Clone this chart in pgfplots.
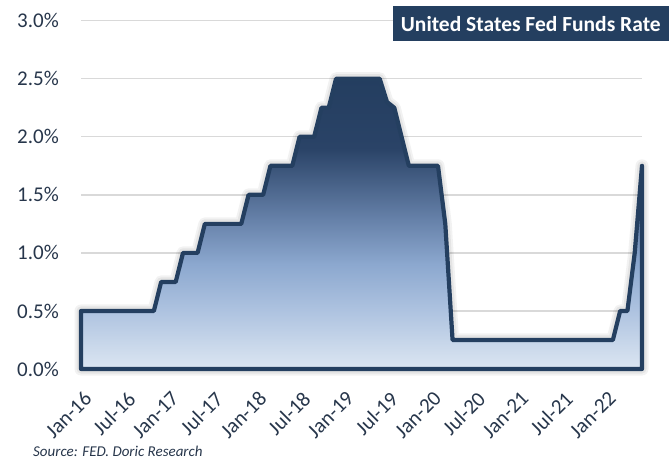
\documentclass[border=0pt]{standalone}
\usepackage{pgfplots}
\pgfplotsset{compat=1.18}
\usepackage{pgfplotstable}
\usepackage{fontspec}
\setmainfont{Carlito}
\definecolor{navy}{HTML}{243F60}
\definecolor{titlebg}{HTML}{243F60}
\definecolor{labelc}{HTML}{27364B}
\definecolor{gridc}{HTML}{D9D9D9}
\definecolor{g0}{HTML}{DCE6F2}
\definecolor{g1}{HTML}{AEC3E0}
\definecolor{g2}{HTML}{8CA8CF}
\definecolor{g3}{HTML}{6580A8}
\definecolor{g4}{HTML}{2A4367}
\definecolor{g5}{HTML}{243E60}
\pgfdeclareverticalshading{fedfill}{100bp}{color(0bp)=(g0); color(25bp)=(g0); color(35bp)=(g1); color(43bp)=(g2); color(51bp)=(g3); color(63bp)=(g4); color(75bp)=(g5); color(100bp)=(g5)}

\pgfplotstableread{
m v
0 0.5
1 0.5
2 0.5
3 0.5
4 0.5
5 0.5
6 0.5
7 0.5
8 0.5
9 0.5
10 0.5
11 0.75
12 0.75
13 0.75
14 1.0
15 1.0
16 1.0
17 1.25
18 1.25
19 1.25
20 1.25
21 1.25
22 1.25
23 1.5
24 1.5
25 1.5
26 1.75
27 1.75
28 1.75
29 1.75
30 2.0
31 2.0
32 2.0
33 2.25
34 2.25
35 2.5
36 2.5
37 2.5
38 2.5
39 2.5
40 2.5
41 2.5
42 2.3
43 2.25
44 2.0
45 1.75
46 1.75
47 1.75
48 1.75
49 1.75
50 1.25
51 0.25
52 0.25
53 0.25
54 0.25
55 0.25
56 0.25
57 0.25
58 0.25
59 0.25
60 0.25
61 0.25
62 0.25
63 0.25
64 0.25
65 0.25
66 0.25
67 0.25
68 0.25
69 0.25
70 0.25
71 0.25
72 0.25
73 0.25
74 0.5
75 0.5
76 1.0
77 1.75
}\fedtable

\begin{document}
\begin{tikzpicture}
\useasboundingbox (0,0) rectangle (669pt,466pt);
\begin{axis}[
  at={(81pt,97pt)}, anchor=south west,
  scale only axis, width=561pt, height=348.3pt,
  xmin=0, xmax=77, ymin=0, ymax=3,
  clip=false,
  axis line style={draw=none},
  major tick length=0pt,
  ymajorgrids,
  grid style={gridc, line width=1.4pt},
  ytick={0,0.5,1,1.5,2,2.5,3},
  yticklabels={0.0\%,0.5\%,1.0\%,1.5\%,2.0\%,2.5\%,3.0\%},
  xtick={0,6,...,72},
  xticklabels={Jan-16,Jul-16,Jan-17,Jul-17,Jan-18,Jul-18,Jan-19,Jul-19,Jan-20,Jul-20,Jan-21,Jul-21,Jan-22},
  tick label style={font=\fontsize{21}{25}\selectfont, text=labelc},
  y tick label style={anchor=east, inner sep=0pt, xshift=-22pt},
  xticklabel shift=21pt,
  x tick label style={inner sep=0pt, xshift=2pt, rotate=45, anchor=north east},
]
\addplot[draw=black, draw opacity=0.05, line width=13pt, line join=round, forget plot] table[x=m, y=v] {\fedtable} \closedcycle;
\addplot[draw=black, draw opacity=0.06, line width=9pt, line join=round, forget plot] table[x=m, y=v] {\fedtable} \closedcycle;
\addplot[draw=navy, line width=4.2pt, line join=round, shading=fedfill] table[x=m, y=v] {\fedtable} \closedcycle;
\end{axis}
\node[fill=titlebg, text=white, font=\bfseries\fontsize{21.5}{24}\selectfont, minimum width=276pt, minimum height=35pt, inner sep=0pt, anchor=north east] at (669pt,460pt) {United States Fed Funds Rate};
\node[anchor=base west, inner sep=0pt, text=labelc, font=\itshape\fontsize{15}{18}\selectfont] at (33pt,9.5pt) {Source: FED. Doric Research};
\end{tikzpicture}
\end{document}
